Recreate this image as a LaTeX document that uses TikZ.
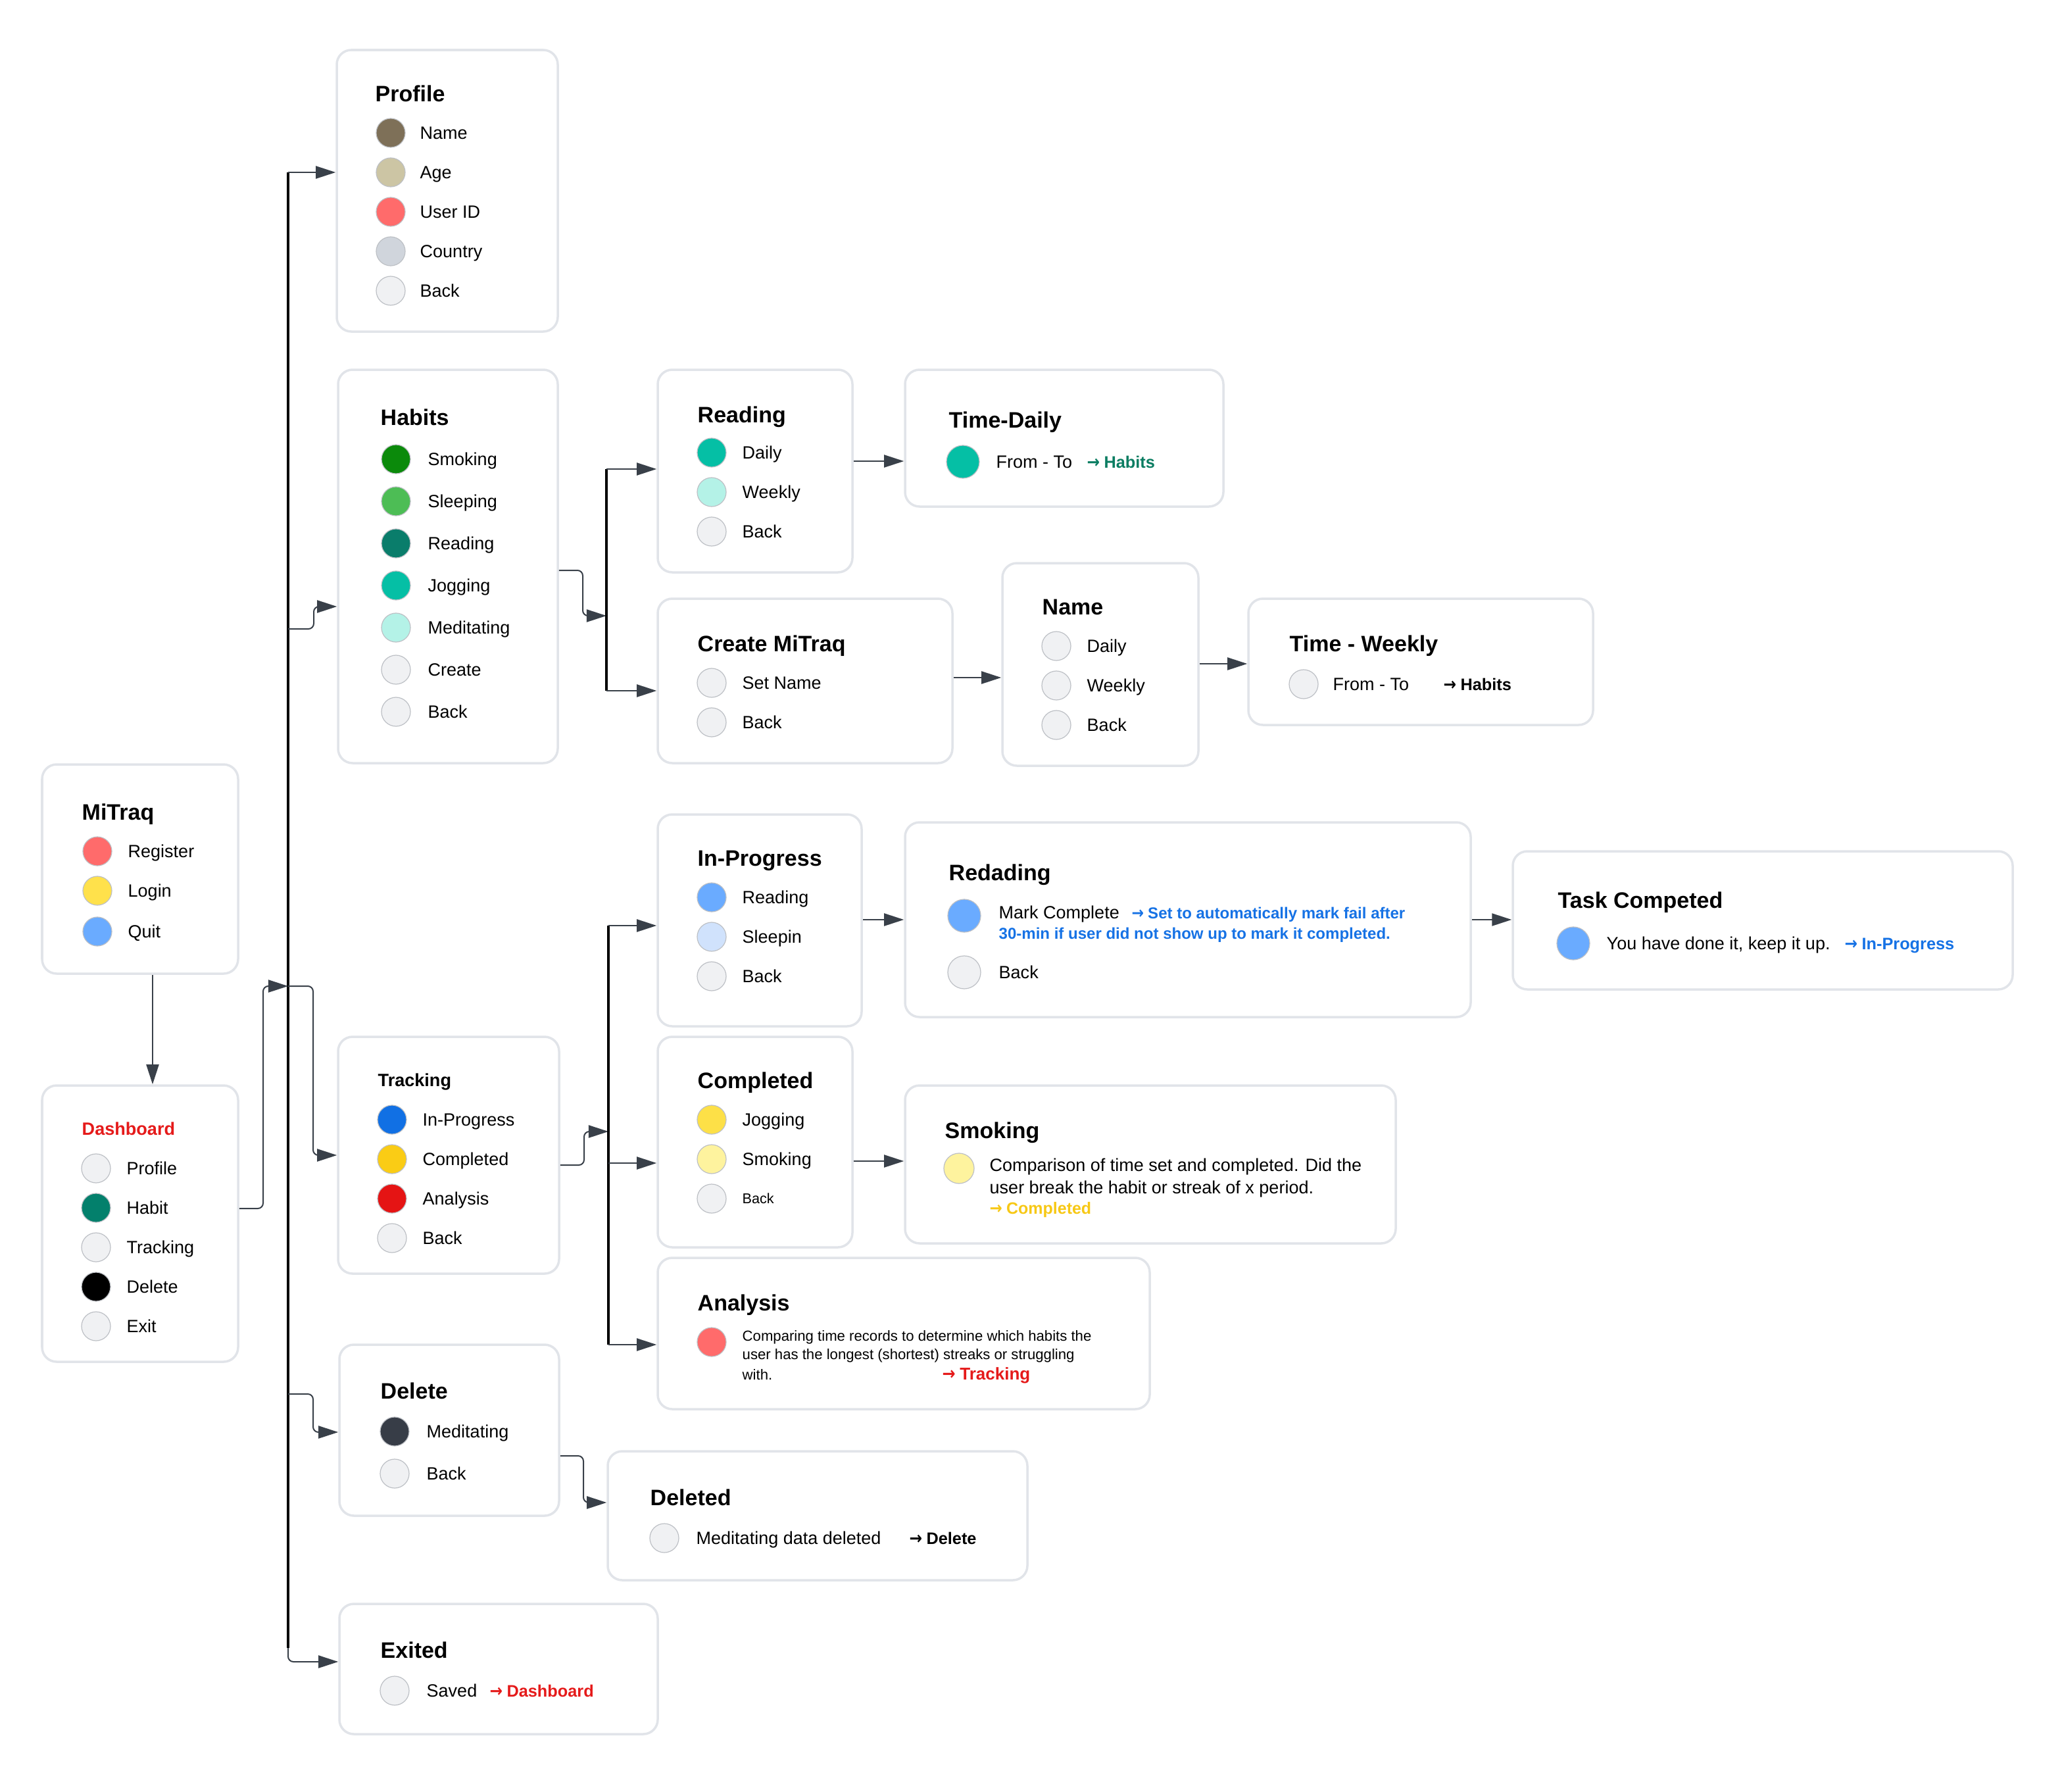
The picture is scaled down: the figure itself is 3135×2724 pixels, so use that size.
\documentclass[tikz,border=0pt]{standalone}
\usepackage{fontspec}
\setmainfont{Liberation Sans}
\newfontfamily\arrowfont{DejaVu Sans}
\usetikzlibrary{arrows.meta,fit,calc}

\definecolor{cardline}{HTML}{E1E4E9}
\definecolor{connc}{HTML}{394049}
\definecolor{dotline}{HTML}{BDC0C5}
\definecolor{pale}{HTML}{F0F1F3}
\definecolor{taupe}{HTML}{7E7058}
\definecolor{beige}{HTML}{CCC5A4}
\definecolor{coral}{HTML}{FF6B6B}
\definecolor{cloud}{HTML}{D0D5DC}
\definecolor{greenA}{HTML}{0B8A0B}
\definecolor{greenB}{HTML}{4DBD55}
\definecolor{tealA}{HTML}{0A7D6B}
\definecolor{tealB}{HTML}{05BFA5}
\definecolor{mint}{HTML}{B4F2E7}
\definecolor{sun}{HTML}{FFE14B}
\definecolor{sky}{HTML}{6AABFF}
\definecolor{habitteal}{HTML}{03806C}
\definecolor{paleblue}{HTML}{D0E2FC}
\definecolor{blueA}{HTML}{1170E4}
\definecolor{amber}{HTML}{FACC15}
\definecolor{redA}{HTML}{E51414}
\definecolor{yellowA}{HTML}{FDE047}
\definecolor{paleyellow}{HTML}{FEF39E}
\definecolor{ink}{HTML}{373D47}
\definecolor{linkgreen}{HTML}{0B7D62}
\definecolor{linkblue}{HTML}{1672E5}
\definecolor{linkyellow}{HTML}{F7C815}
\definecolor{linkred}{HTML}{E51A1A}

% arrow glyph used in the link labels
\newcommand\goto{{\arrowfont\scalebox{0.92}[1.05]{→}}\hspace{0.25em}}
% one option row: name, dot x, y, text x, fill, label
\newcommand\opt[6]{%
  \node[dot,fill=#5] (#1) at (#2,#3) {};
  \node[txt] (#1t) at (#4,#3) {#6};}

\begin{document}
\begin{tikzpicture}[x=0.01cm,y=-0.01cm,
  card/.style={draw=cardline, line width=0.035cm, rounded corners=0.22cm, fill=white, inner sep=0pt},
  conn/.style={draw=connc, line width=0.02cm, rounded corners=0.08cm,
               -{Triangle[length=0.3cm,width=0.19cm]}},
  bus/.style={draw=black, line width=0.042cm},
  dot/.style={circle, draw=dotline, line width=0.012cm, minimum size=0.44cm, inner sep=0pt},
  bigdot/.style={dot, minimum size=0.5cm},
  ttl/.style={anchor=west, inner sep=0pt, font=\bfseries\fontsize{9.67}{11}\selectfont, text height=6.9pt, text depth=0pt},
  sttl/.style={anchor=west, inner sep=0pt, font=\bfseries\fontsize{7.7}{9}\selectfont, text height=5.5pt, text depth=0pt},
  txt/.style={anchor=west, inner sep=0pt, font=\fontsize{7.68}{9}\selectfont, text height=5.5pt, text depth=0pt},
  link/.style={anchor=west, inner sep=0pt, font=\bfseries\fontsize{7.2}{9}\selectfont, text height=5.2pt, text depth=0pt},
  desc/.style={anchor=base west, inner sep=0pt, font=\fontsize{7.68}{9}\selectfont},
  sdesc/.style={anchor=base west, inner sep=0pt, font=\fontsize{6.3}{8}\selectfont},
]
\fill[white] (0,0) rectangle (3135,2724);
\useasboundingbox (0,0) rectangle (3135,2724);

% ---------- cards ----------
\node[card, fit={(512,76) (848,504)}] (profile) {};
\node[card, fit={(514,562) (848,1160)}] (habits) {};
\node[card, fit={(1000,562) (1296,870)}] (reading) {};
\node[card, fit={(1376,562) (1860,770)}] (timedaily) {};
\node[card, fit={(1000,910) (1448,1160)}] (create) {};
\node[card, fit={(1524,856) (1822,1164)}] (name) {};
\node[card, fit={(1898,910) (2422,1102)}] (timeweekly) {};
\node[card, fit={(64,1162) (362,1480)}] (mitraq) {};
\node[card, fit={(64,1650) (362,2070)}] (dashboard) {};
\node[card, fit={(1000,1238) (1310,1560)}] (inprogress) {};
\node[card, fit={(1376,1250) (2236,1546)}] (redading) {};
\node[card, fit={(2300,1294) (3060,1504)}] (task) {};
\node[card, fit={(514,1576) (850,1936)}] (tracking) {};
\node[card, fit={(1000,1576) (1296,1896)}] (completed) {};
\node[card, fit={(1376,1650) (2122,1890)}] (smoking) {};
\node[card, fit={(1000,1912) (1748,2142)}] (analysis) {};
\node[card, fit={(516,2044) (850,2304)}] (delete) {};
\node[card, fit={(924,2206) (1562,2402)}] (deleted) {};
\node[card, fit={(516,2438) (1000,2636)}] (exited) {};

% ---------- connectors ----------
% main bus
\coordinate (b1top) at (438,262);
\coordinate (b1bot) at (438,2505);
\draw[bus] (b1top) -- (b1bot);
\draw[conn] (b1top) -- (profile.west |- b1top);
\coordinate (b1h) at (438,956);
\coordinate (hIn) at (477,922);
\draw[conn] (b1h) -- (477,956) -- (hIn) -- (habits.west |- hIn);
\coordinate (dOut) at (400,1837);
\coordinate (b1d) at (438,1499);
\draw[conn] (dashboard.east |- dOut) -- (dOut) -- (400,1499) -- (b1d);
\coordinate (tIn) at (476,1756);
\draw[conn] (b1d) -- (476,1499) -- (tIn) -- (tracking.west |- tIn);
\coordinate (b1x) at (438,2119);
\coordinate (xIn) at (476,2177);
\draw[conn] (b1x) -- (476,2119) -- (xIn) -- (delete.west |- xIn);
\coordinate (eIn) at (438,2526);
\draw[conn] (b1bot) -- (eIn) -- (exited.west |- eIn);
% login flow
\coordinate (mx) at (232,0);
\draw[conn] (mitraq.south -| mx) -- (dashboard.north -| mx);
% habits branch
\coordinate (hOut) at (886,867);
\coordinate (b2in) at (922,936);
\coordinate (b2top) at (922,713);
\coordinate (b2bot) at (922,1050);
\draw[conn] (habits.east |- hOut) -- (hOut) -- (886,936) -- (b2in);
\draw[bus] (b2top) -- (b2bot);
\draw[conn] (b2top) -- (reading.west |- b2top);
\draw[conn] (b2bot) -- (create.west |- b2bot);
\coordinate (rd) at (1296,701);
\draw[conn] (reading.east |- rd) -- (timedaily.west |- rd);
\coordinate (cn) at (1448,1030);
\draw[conn] (create.east |- cn) -- (name.west |- cn);
\coordinate (nw) at (1822,1009);
\draw[conn] (name.east |- nw) -- (timeweekly.west |- nw);
% tracking branch
\coordinate (tOut) at (888,1771);
\coordinate (b3in) at (925,1720);
\coordinate (b3top) at (925,1407);
\coordinate (b3mid) at (925,1768);
\coordinate (b3bot) at (925,2044);
\draw[conn] (tracking.east |- tOut) -- (tOut) -- (888,1720) -- (b3in);
\draw[bus] (b3top) -- (b3bot);
\draw[conn] (b3top) -- (inprogress.west |- b3top);
\draw[conn] (b3mid) -- (completed.west |- b3mid);
\draw[conn] (b3bot) -- (analysis.west |- b3bot);
\coordinate (ir) at (1310,1398);
\draw[conn] (inprogress.east |- ir) -- (redading.west |- ir);
\coordinate (rt) at (2236,1398);
\draw[conn] (redading.east |- rt) -- (task.west |- rt);
\coordinate (cs) at (1296,1765);
\draw[conn] (completed.east |- cs) -- (smoking.west |- cs);
% delete branch
\coordinate (xOut) at (887,2213);
\coordinate (ddIn) at (887,2284);
\draw[conn] (delete.east |- xOut) -- (xOut) -- (ddIn) -- (deleted.west |- ddIn);

% ---------- card contents ----------
% Profile
\node[ttl] (profileT) at (570,142) {Profile};
\opt{pr1}{594}{202}{638}{taupe}{Name}
\opt{pr2}{594}{262}{638}{beige}{Age}
\opt{pr3}{594}{322}{638}{coral}{User ID}
\opt{pr4}{594}{382}{638}{cloud}{Country}
\opt{pr5}{594}{442}{638}{pale}{Back}

% Habits
\node[ttl] (habitsT) at (578,634) {Habits};
\opt{hb1}{602}{698}{650}{greenA}{Smoking}
\opt{hb2}{602}{762}{650}{greenB}{Sleeping}
\opt{hb3}{602}{826}{650}{tealA}{Reading}
\opt{hb4}{602}{890}{650}{tealB}{Jogging}
\opt{hb5}{602}{954}{650}{mint}{Meditating}
\opt{hb6}{602}{1018}{650}{pale}{Create}
\opt{hb7}{602}{1082}{650}{pale}{Back}

% Reading
\node[ttl] (readingT) at (1060,630) {Reading};
\opt{rd1}{1082}{688}{1128}{tealB}{Daily}
\opt{rd2}{1082}{748}{1128}{mint}{Weekly}
\opt{rd3}{1082}{808}{1128}{pale}{Back}

% Time-Daily
\node[ttl] (timedailyT) at (1442,638) {Time-Daily};
\node[bigdot, fill=tealB] (td1) at (1464,702) {};
\node[txt] (td1t) at (1514,702) {From - To};
\node[link, text=linkgreen] (td1l) at (1652,702) {\goto Habits};

% Create MiTraq
\node[ttl] (createT) at (1060,978) {Create MiTraq};
\opt{cr1}{1082}{1038}{1128}{pale}{Set Name}
\opt{cr2}{1082}{1098}{1128}{pale}{Back}

% Name
\node[ttl] (nameT) at (1584,922) {Name};
\opt{nm1}{1606}{982}{1652}{pale}{Daily}
\opt{nm2}{1606}{1042}{1652}{pale}{Weekly}
\opt{nm3}{1606}{1102}{1652}{pale}{Back}

% Time - Weekly
\node[ttl] (timeweeklyT) at (1960,978) {Time - Weekly};
\opt{tw1}{1982}{1040}{2026}{pale}{From - To}
\node[link] (tw1l) at (2194,1040) {\goto Habits};

% MiTraq
\node[ttl] (mitraqT) at (124,1234) {MiTraq};
\opt{mt1}{148}{1294}{194}{coral}{Register}
\opt{mt2}{148}{1354}{194}{sun}{Login}
\opt{mt3}{148}{1416}{194}{sky}{Quit}

% Dashboard
\node[sttl, text=linkred] (dashboardT) at (124,1716) {Dashboard};
\opt{db1}{146}{1776}{192}{pale}{Profile}
\opt{db2}{146}{1836}{192}{habitteal}{Habit}
\opt{db3}{146}{1896}{192}{pale}{Tracking}
\opt{db4}{146}{1956}{192}{black}{Delete}
\opt{db5}{146}{2016}{192}{pale}{Exit}

% In-Progress
\node[ttl] (inprogressT) at (1060,1304) {In-Progress};
\opt{ip1}{1082}{1364}{1128}{sky}{Reading}
\opt{ip2}{1082}{1424}{1128}{paleblue}{Sleepin}
\opt{ip3}{1082}{1484}{1128}{pale}{Back}

% Redading
\node[ttl] (redadingT) at (1442,1326) {Redading};
\node[bigdot, fill=sky] (rg1) at (1466,1392) {};
\node[desc] (rg1t) at (1518,1396) {Mark Complete};
\node[anchor=base west, inner sep=0pt, font=\bfseries\fontsize{6.83}{9}\selectfont, text=linkblue]
  (rg1l) at (1720,1396) {\goto Set to automatically mark fail after};
\node[anchor=base west, inner sep=0pt, font=\bfseries\fontsize{6.83}{9}\selectfont, text=linkblue]
  (rg1m) at (1518,1427) {30-min if user did not show up to mark it completed.};
\node[bigdot, fill=pale] (rg2) at (1466,1478) {};
\node[txt] (rg2t) at (1518,1478) {Back};

% Task Competed
\node[ttl] (taskT) at (2368,1368) {Task Competed};
\node[bigdot, fill=sky] (tk1) at (2392,1434) {};
\node[txt] (tk1t) at (2442,1434) {You have done it, keep it up.};
\node[link, text=linkblue] (tk1l) at (2804,1434) {\goto In-Progress};

% Tracking
\node[sttl] (trackingT) at (574,1642) {Tracking};
\opt{tr1}{596}{1702}{642}{blueA}{In-Progress}
\opt{tr2}{596}{1762}{642}{amber}{Completed}
\opt{tr3}{596}{1822}{642}{redA}{Analysis}
\opt{tr4}{596}{1882}{642}{pale}{Back}

% Completed
\node[ttl] (completedT) at (1060,1642) {Completed};
\opt{cp1}{1082}{1702}{1128}{yellowA}{Jogging}
\opt{cp2}{1082}{1762}{1128}{paleyellow}{Smoking}
\node[dot, fill=pale] (cp3) at (1082,1822) {};
\node[anchor=west, inner sep=0pt, font=\fontsize{6.15}{8}\selectfont, text height=4.4pt, text depth=0pt]
  (cp3t) at (1128,1822) {Back};

% Smoking
\node[ttl] (smokingT) at (1436,1718) {Smoking};
\node[dot, minimum size=0.46cm, fill=paleyellow] (sm1) at (1458,1776) {};
\node[desc] (sm1a) at (1504,1780) {Comparison of time set and completed. Did the};
\node[desc] (sm1b) at (1504,1814) {user break the habit or streak of x period.};
\node[anchor=base west, inner sep=0pt, font=\bfseries\fontsize{7.1}{9}\selectfont, text=linkyellow]
  (sm1l) at (1504,1845) {\goto Completed};

% Analysis
\node[ttl] (analysisT) at (1060,1980) {Analysis};
\node[dot, fill=coral] (an1) at (1082,2040) {};
\node[sdesc] (an1a) at (1128,2038) {Comparing time records to determine which habits the};
\node[sdesc] (an1b) at (1128,2066) {user has the longest (shortest) streaks or struggling};
\node[sdesc] (an1c) at (1128,2097) {with.};
\node[anchor=base west, inner sep=0pt, font=\bfseries\fontsize{7.4}{9}\selectfont, text=linkred]
  (an1l) at (1432,2097) {\goto Tracking};

% Delete
\node[ttl] (deleteT) at (578,2114) {Delete};
\opt{dl1}{600}{2176}{648}{ink}{Meditating}
\opt{dl2}{600}{2240}{648}{pale}{Back}

% Deleted
\node[ttl] (deletedT) at (988,2276) {Deleted};
\opt{dd1}{1010}{2338}{1058}{pale}{Meditating data deleted}
\node[link] (dd1l) at (1382,2338) {\goto Delete};

% Exited
\node[ttl] (exitedT) at (578,2508) {Exited};
\opt{ex1}{600}{2570}{648}{pale}{Saved}
\node[link, text=linkred] (ex1l) at (744,2570) {\goto Dashboard};

\end{tikzpicture}
\end{document}
